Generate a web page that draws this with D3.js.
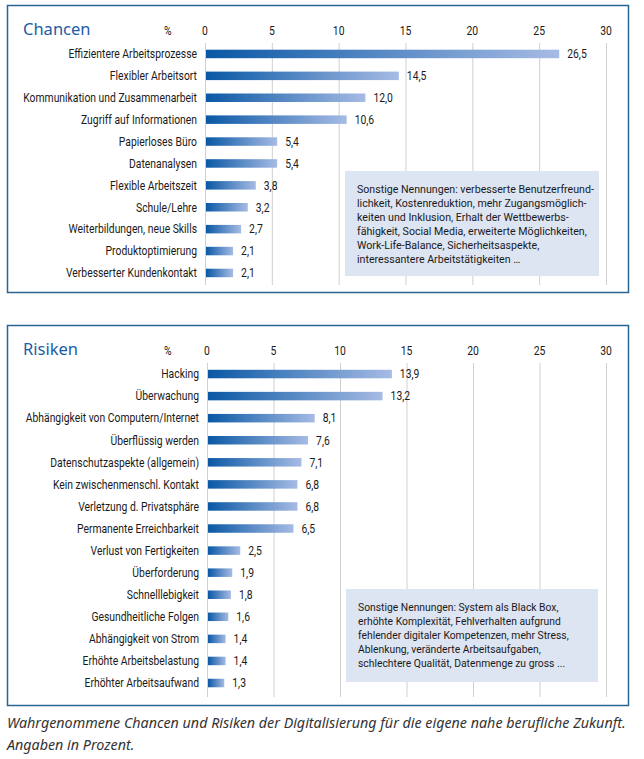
<!DOCTYPE html>
<html>
<head>
<meta charset="utf-8">
<script src="https://cdn.jsdelivr.net/npm/d3@7"></script>
<style>
  body { margin: 0; background: #fff; }
  svg { display: block; }
  .lbl { font-family: Roboto, "Noto Sans", sans-serif; font-size: 12px; fill: #1a1a1a; }
  .note { font-family: Roboto, "Noto Sans", sans-serif; font-size: 11.8px; fill: #1a1a1a; }
</style>
</head>
<body>
<svg id="chart" width="644" height="759"></svg>
<script>
// Chancen
const chancenLabels = ["Effizientere Arbeitsprozesse", "Flexibler Arbeitsort", "Kommunikation und Zusammenarbeit",
    "Zugriff auf Informationen", "Papierloses Büro", "Datenanalysen", "Flexible Arbeitszeit", "Schule/Lehre",
    "Weiterbildungen, neue Skills", "Produktoptimierung", "Verbesserter Kundenkontakt"];
const chancenValues = [26.5, 14.5, 12.0, 10.6, 5.4, 5.4, 3.8, 3.2, 2.7, 2.1, 2.1];
const chancenNote = ["Sonstige Nennungen: verbesserte Benutzerfreund-", "lichkeit, Kostenreduktion, mehr Zugangsmöglich-",
    "keiten und Inklusion, Erhalt der Wettbewerbs-", "fähigkeit, Social Media, erweiterte Möglichkeiten,",
    "Work-Life-Balance, Sicherheitsaspekte,", "interessantere Arbeitstätigkeiten …"];

// Risiken
const risikenLabels = ["Hacking", "Überwachung", "Abhängigkeit von Computern/Internet", "Überflüssig werden",
    "Datenschutzaspekte (allgemein)", "Kein zwischenmenschl. Kontakt", "Verletzung d. Privatsphäre",
    "Permanente Erreichbarkeit", "Verlust von Fertigkeiten", "Überforderung", "Schnelllebigkeit",
    "Gesundheitliche Folgen", "Abhängigkeit von Strom", "Erhöhte Arbeitsbelastung", "Erhöhter Arbeitsaufwand"];
const risikenValues = [13.9, 13.2, 8.1, 7.6, 7.1, 6.8, 6.8, 6.5, 2.5, 1.9, 1.8, 1.6, 1.4, 1.4, 1.3];
const risikenNote = ["Sonstige Nennungen: System als Black Box,", "erhöhte Komplexität, Fehlverhalten aufgrund",
    "fehlender digitaler Kompetenzen, mehr Stress,", "Ablenkung, veränderte Arbeitsaufgaben,",
    "schlechtere Qualität, Datenmenge zu gross ..."];

const ticks = [0, 5, 10, 15, 20, 25, 30];
const captionLines = ["Wahrgenommene Chancen und Risiken der Digitalisierung für die eigene nahe berufliche Zukunft.",
    "Angaben in Prozent."];

const fmt = d3.formatLocale({ decimal: ",", thousands: ".", grouping: [3], currency: ["", "€"] }).format(".1f");

const svg = d3.select("#chart");

// bar gradient (per bar, objectBoundingBox)
const grad = svg.append("defs").append("linearGradient").attr("id", "barGrad");
grad.append("stop").attr("offset", "0%").attr("stop-color", "#0a58a5");
grad.append("stop").attr("offset", "100%").attr("stop-color", "#a6bbe4");

// the original uses a condensed face; squeeze a normal one horizontally
function widthFactor(cls, str, target) {
    const t = svg.append("text").attr("class", cls).text(str);
    const w = t.node().getComputedTextLength();
    t.remove();
    return target / w;
}
const k = widthFactor("lbl", "Kommunikation und Zusammenarbeit", 174);

function squeeze(sel, f) {
    sel.each(function () {
        const t = d3.select(this);
        const px = +t.attr("x"), py = +t.attr("y");
        t.attr("x", 0).attr("y", 0)
            .attr("transform", `translate(${px},${py}) scale(${f},1)`);
    });
}

function drawPanel(p) {
    const g = svg.append("g");

    // frame
    g.append("rect")
        .attr("x", 7.5).attr("y", p.top + 0.5)
        .attr("width", 621).attr("height", p.height)
        .attr("fill", "none")
        .attr("stroke", "#2a6592")
        .attr("stroke-width", 1.5);

    g.append("text")
        .attr("x", 23).attr("y", p.top + 30)
        .attr("fill", "#1b5ca6")
        .style("font-family", "'Noto Sans', sans-serif")
        .style("font-size", "16.5px")
        .text(p.title);

    const x = d3.scaleLinear().domain([0, 30]).range([p.x0, 606]);
    const y = d3.scaleBand().domain(p.labels).range([p.top + 38, p.top + 38 + p.step * p.labels.length]);

    // grid
    g.selectAll(".grid").data(ticks).join("line")
        .attr("x1", d => x(d) + 0.5).attr("x2", d => x(d) + 0.5)
        .attr("y1", p.top + 38).attr("y2", p.gridEnd)
        .attr("stroke", "#cfcfcf").attr("stroke-width", 1);

    // tick labels
    g.selectAll(".tick").data(ticks).join("text")
        .attr("class", "lbl")
        .attr("x", d => x(d)).attr("y", p.top + 30)
        .attr("text-anchor", "middle")
        .text(d => d)
        .call(squeeze, k);

    g.append("text").attr("class", "lbl")
        .attr("x", 164).attr("y", p.top + 30)
        .text("%")
        .call(squeeze, k);

    // annotation box
    g.append("rect")
        .attr("x", p.box[0]).attr("y", p.box[1])
        .attr("width", p.box[2]).attr("height", p.box[3])
        .attr("fill", "#dde4f2");

    const kn = widthFactor("note", p.note[p.widest], p.widestPx);
    g.selectAll(".nl").data(p.note).join("text")
        .attr("class", "note")
        .attr("x", p.box[0] + 12)
        .attr("y", (d, i) => p.box[1] + 22 + i * 14)
        .text(d => d)
        .call(squeeze, kn);

    // bars
    const rows = p.labels.map((l, i) => ({ label: l, value: p.values[i] }));
    const bh = 8.5;

    g.selectAll(".bar").data(rows).join("rect")
        .attr("x", x(0) + 1)
        .attr("y", d => y(d.label) + y.bandwidth() / 2 - bh / 2)
        .attr("width", d => x(d.value) - x(0) - 1)
        .attr("height", bh)
        .attr("fill", "url(#barGrad)");

    g.selectAll(".cat").data(rows).join("text")
        .attr("class", "lbl")
        .attr("x", p.x0 - 8)
        .attr("y", d => y(d.label) + y.bandwidth() / 2 + 4.3)
        .attr("text-anchor", "end")
        .text(d => d.label)
        .call(squeeze, k);

    g.selectAll(".val").data(rows).join("text")
        .attr("class", "lbl")
        .attr("x", d => x(d.value) + 8)
        .attr("y", d => y(d.label) + y.bandwidth() / 2 + 4.3)
        .text(d => fmt(d.value))
        .call(squeeze, k);
}

drawPanel({
    title: "Chancen", top: 5, height: 287, x0: 205, step: 21.9, gridEnd: 285,
    labels: chancenLabels, values: chancenValues, note: chancenNote,
    box: [345, 171, 254, 105], widest: 3, widestPx: 230
});

drawPanel({
    title: "Risiken", top: 325, height: 380, x0: 207, step: 22.07, gridEnd: 697,
    labels: risikenLabels, values: risikenValues, note: risikenNote,
    box: [346, 589, 252, 93], widest: 2, widestPx: 211
});

// caption
svg.selectAll(".cap").data(captionLines).join("text")
    .attr("x", 7)
    .attr("y", (d, i) => 728 + i * 22)
    .attr("fill", "#333")
    .style("font-family", "'Noto Sans', sans-serif")
    .style("font-style", "italic")
    .style("font-size", "14.3px")
    .text(d => d);
</script>
</body>
</html>
